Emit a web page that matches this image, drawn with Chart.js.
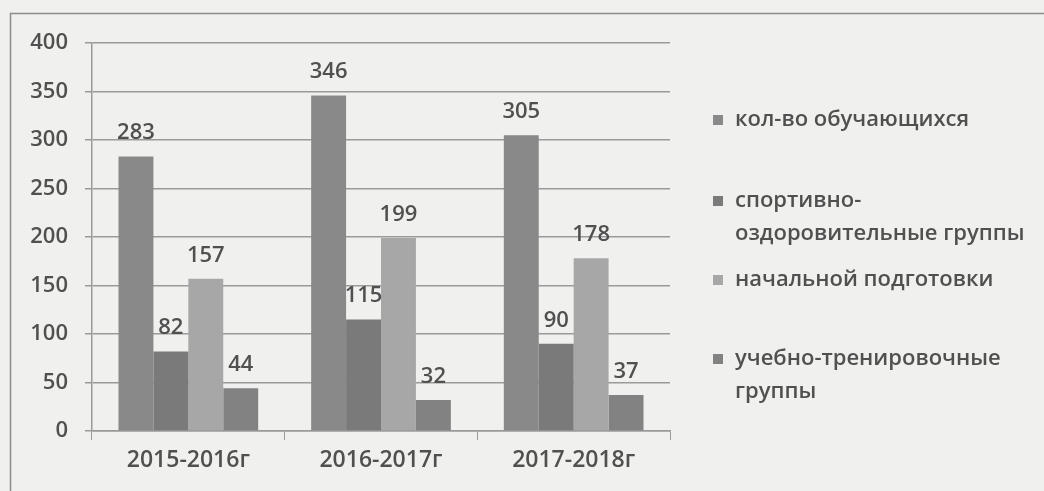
<!DOCTYPE html>
<html><head><meta charset="utf-8">
<script src="https://cdn.jsdelivr.net/npm/chart.js@4/dist/chart.umd.min.js"></script>
<style>html,body{margin:0;padding:0;background:#f0f0ee;}canvas{display:block;}</style>
</head><body>
<canvas id="c" width="1044" height="491"></canvas>
<script>
const categories = ['2015-2016г', '2016-2017г', '2017-2018г'];
const seriesNames = [
  ['кол-во обучающихся'],
  ['спортивно-', 'оздоровительные группы'],
  ['начальной подготовки'],
  ['учебно-тренировочные', 'группы']
];
const students = [283, 346, 305];
const healthGroups = [82, 115, 90];
const initialTraining = [157, 199, 178];
const trainingGroups = [44, 32, 37];
const yTicks = [0, 50, 100, 150, 200, 250, 300, 350, 400];
const colors = ['#898989', '#7a7a7a', '#a7a7a7', '#828282'];
const FONT = '"Open Sans", "DejaVu Sans", sans-serif';
const TEXT = '#505050';

const frame = {
  id: 'frame',
  beforeDraw(chart) {
    const ctx = chart.ctx;
    ctx.save();
    ctx.fillStyle = '#f0f0ee';
    ctx.fillRect(0, 0, chart.width, chart.height);
    ctx.strokeStyle = '#8c8c8c';
    ctx.lineWidth = 1.5;
    ctx.beginPath();
    ctx.moveTo(10.5, chart.height + 2);
    ctx.lineTo(10.5, 13.5);
    ctx.lineTo(chart.width + 2, 13.5);
    ctx.stroke();
    ctx.restore();
  }
};

const valueLabels = {
  id: 'valueLabels',
  afterDatasetsDraw(chart) {
    const ctx = chart.ctx;
    ctx.save();
    ctx.font = '600 22px ' + FONT;
    ctx.fillStyle = TEXT;
    ctx.textAlign = 'center';
    ctx.textBaseline = 'alphabetic';
    chart.data.datasets.forEach((ds, i) => {
      chart.getDatasetMeta(i).data.forEach((bar, j) => {
        ctx.fillText(String(ds.data[j]), bar.x, bar.y - 17);
      });
    });
    ctx.restore();
  }
};

const sideLegend = {
  id: 'sideLegend',
  afterDraw(chart) {
    const ctx = chart.ctx;
    ctx.save();
    ctx.font = '600 22px ' + FONT;
    ctx.textBaseline = 'middle';
    const tops = [120, 201, 280, 359];
    chart.data.datasets.forEach((ds, i) => {
      const y = tops[i];
      ctx.fillStyle = ds.backgroundColor;
      ctx.fillRect(713, y - 5, 10, 10);
      ctx.fillStyle = TEXT;
      seriesNames[i].forEach((line, k) => {
        ctx.fillText(line, 735, y + k * 33);
      });
    });
    ctx.restore();
  }
};

new Chart(document.getElementById('c'), {
  type: 'bar',
  data: {
    labels: categories,
    datasets: [
      { label: seriesNames[0].join(' '), data: students, backgroundColor: colors[0] },
      { label: seriesNames[1].join(' '), data: healthGroups, backgroundColor: colors[1] },
      { label: seriesNames[2].join(' '), data: initialTraining, backgroundColor: colors[2] },
      { label: seriesNames[3].join(' '), data: trainingGroups, backgroundColor: colors[3] }
    ]
  },
  options: {
    responsive: false,
    animation: false,
    devicePixelRatio: 1,
    layout: { padding: { left: 0, top: 43, right: 374, bottom: 0 } },
    datasets: { bar: { categoryPercentage: 0.725, barPercentage: 1.0 } },
    plugins: { legend: { display: false }, tooltip: { enabled: false } },
    scales: {
      x: {
        afterFit(s) { s.height = 60; },
        grid: { display: true, drawOnChartArea: false, drawTicks: true, tickLength: 9, color: '#9a9a9a', offset: true },
        border: { display: true, color: '#9a9a9a', width: 1.5 },
        ticks: { color: TEXT, font: { family: FONT, size: 23, weight: '600' }, padding: 7 }
      },
      y: {
        min: 0, max: 400,
        afterFit(s) { s.width = 92; },
        afterBuildTicks(s) { s.ticks = yTicks.map(v => ({ value: v })); },
        grid: { color: '#9a9a9a', lineWidth: 1.5, tickLength: 7 },
        border: { display: true, color: '#9a9a9a', width: 1.5 },
        ticks: { color: TEXT, font: { family: FONT, size: 22, weight: '600' }, padding: 17 }
      }
    }
  },
  plugins: [frame, valueLabels, sideLegend]
});
</script>
</body></html>
